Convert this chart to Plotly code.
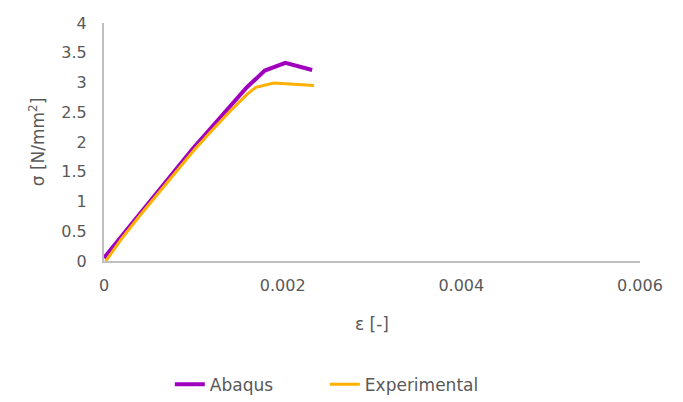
import plotly.graph_objects as go

# Stress-strain data
abaqus_strain = [0.0, 0.0002, 0.0004, 0.0006, 0.0008, 0.0010, 0.0012, 0.0014, 0.0016, 0.0018, 0.0019, 0.00203, 0.00233]
abaqus_stress = [0.05, 0.42, 0.80, 1.17, 1.54, 1.90, 2.24, 2.57, 2.92, 3.20, 3.26, 3.33, 3.21]

exp_strain = [0.00002, 0.0002, 0.0004, 0.0006, 0.0008, 0.0010, 0.0012, 0.0014, 0.0016, 0.0017, 0.0019, 0.00235]
exp_stress = [0.0, 0.38, 0.76, 1.13, 1.50, 1.85, 2.18, 2.50, 2.80, 2.92, 2.99, 2.95]

x_ticks = [0, 0.002, 0.004, 0.006]
x_tick_labels = ["0", "0.002", "0.004", "0.006"]
y_ticks = [0, 0.5, 1, 1.5, 2, 2.5, 3, 3.5, 4]
y_tick_labels = ["0", "0.5", "1", "1.5", "2", "2.5", "3", "3.5", "4"]

FONT = "'DejaVu Sans', sans-serif"
GREY = "#595959"

fig = go.Figure()
fig.add_trace(go.Scatter(x=abaqus_strain, y=abaqus_stress, mode="lines", name="Abaqus",
                         line=dict(color="#A000BE", width=4)))
fig.add_trace(go.Scatter(x=exp_strain, y=exp_stress, mode="lines", name="Experimental",
                         line=dict(color="#FFB000", width=3)))

fig.update_layout(
    width=683, height=402,
    margin=dict(l=104, r=43, t=23, b=141, autoexpand=False),
    paper_bgcolor="white", plot_bgcolor="white",
    font=dict(family=FONT, size=16, color=GREY),
    showlegend=True,
    legend=dict(orientation="h", x=0.412, xanchor="center", y=-0.52, yanchor="middle",
                font=dict(size=17, color=GREY), traceorder="normal",
                entrywidth=110, entrywidthmode="pixels"),
    xaxis=dict(range=[0, 0.006], tickvals=x_ticks, ticktext=x_tick_labels,
               showgrid=False, zeroline=False, showline=True, linecolor="#BFBFBF", linewidth=2,
               ticks="", ticklabelstandoff=9,
               title=dict(text="ε [-]", font=dict(size=17, color=GREY), standoff=24)),
    yaxis=dict(range=[0, 4], tickvals=y_ticks, ticktext=y_tick_labels,
               showgrid=False, zeroline=False, showline=True, linecolor="#BFBFBF", linewidth=2,
               ticks="", ticklabelstandoff=12,
               title=dict(text="σ [N/mm<sup>2</sup>]", font=dict(size=17, color=GREY), standoff=12)),
)

fig.write_html("out.html")
